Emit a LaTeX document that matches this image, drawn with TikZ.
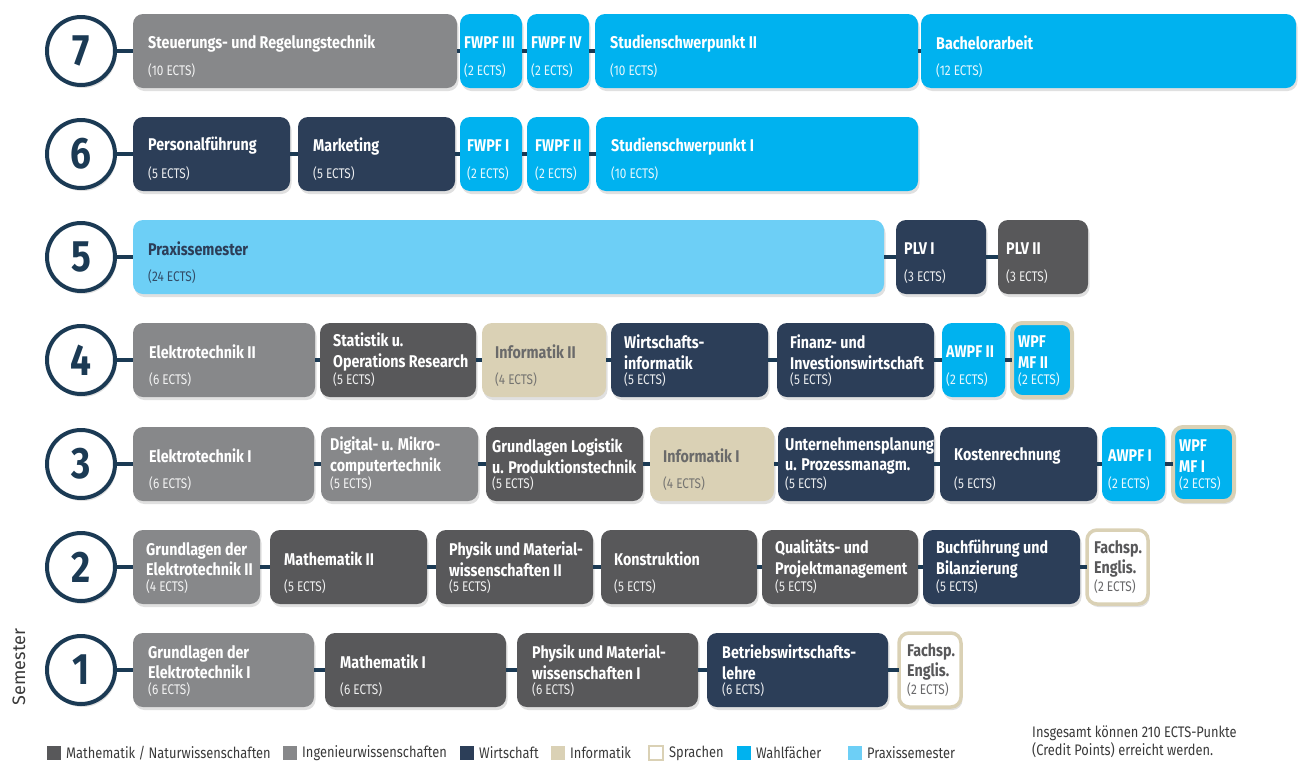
\documentclass[tikz,border=0pt]{standalone}
\usepackage{fontspec}
\setmainfont{Fira Sans}[FakeStretch=0.84]
\newfontfamily\semfont{Fira Sans}
\usepackage{tikz}
\usetikzlibrary{positioning, shadows}

\definecolor{mathgrau}{HTML}{58585A}
\definecolor{inggrau}{HTML}{87888A}
\definecolor{wirtblau}{HTML}{2C3E58}
\definecolor{infobeige}{HTML}{DAD1B5}
\definecolor{wahlblau}{HTML}{00B2EF}
\definecolor{praxisblau}{HTML}{6DCFF6}
\definecolor{kreisblau}{HTML}{1B3A54}
\definecolor{infotext}{HTML}{6A6A6A}
\definecolor{legtext}{HTML}{3A3A3A}

\tikzset{
  box/.style = {shape = rectangle, rounded corners = 10pt, minimum height = 74pt,
    anchor = west, outer sep = 0pt, inner sep = 0pt,
    drop shadow = {shadow xshift = 1.5pt, shadow yshift = -3pt, fill = black, opacity = .12}},
  mathe/.style = {fill = mathgrau},
  ing/.style = {fill = inggrau},
  wirt/.style = {fill = wirtblau},
  info/.style = {fill = infobeige},
  sprache/.style = {fill = white, draw = infobeige, line width = 3.5pt},
  wahl/.style = {fill = wahlblau},
  wahlsp/.style = {fill = wahlblau, draw = infobeige, line width = 4pt},
  praxis/.style = {fill = praxisblau},
  mathe text/.style = {text = white},
  ing text/.style = {text = white},
  wirt text/.style = {text = white},
  info text/.style = {text = infotext},
  sprache text/.style = {text = mathgrau},
  wahl text/.style = {text = white},
  wahlsp text/.style = {text = white},
  praxis text/.style = {text = wirtblau},
  titel/.style = {font = \fontsize{17}{20.5}\selectfont\bfseries, align = left, inner sep = 0pt},
  ects/.style = {font = \fontsize{14}{15}\selectfont, inner sep = 0pt, text opacity = .9},
  semkreis/.style = {shape = circle, draw = kreisblau, line width = 4pt, fill = white,
    minimum size = 68pt, inner sep = 0pt, text = kreisblau,
    font = \fontsize{44}{44}\selectfont\bfseries,
    drop shadow = {shadow xshift = 1.5pt, shadow yshift = -3pt, fill = black, opacity = .12}},
  verbinder/.style = {draw = kreisblau, line width = 4pt},
  legfeld/.style = {shape = rectangle, minimum size = 14pt, inner sep = 0pt, outer sep = 0pt},
  legende/.style = {font = \fontsize{15.3}{18}\selectfont, text = legtext, inner sep = 0pt}
}

% #1 Textabstand, #2 Name, #3 Bereich, #4 links, #5 rechts, #6 Zeile, #7 Titel, #8 ECTS
\newcommand{\fach}[8][14]{%
  \node [box, #3, minimum width = #5-#4] (#2) at (#4, #6) {};
  \node [titel, #3 text, anchor = west] at ([xshift = #1pt, yshift = 8pt]#2.west) {#7};
  \node [ects, #3 text, anchor = west] at ([xshift = #1pt, yshift = -20pt]#2.west) {#8};
}

\begin{document}
\begin{tikzpicture}[x = 1pt, y = -1pt]
  \useasboundingbox (0, 0) rectangle (1298, 761);

  \node [semkreis] (s7) at (81, 51) {7};
  \node [semkreis] (s6) at (81, 154) {6};
  \node [semkreis] (s5) at (81, 257) {5};
  \node [semkreis] (s4) at (81, 360) {4};
  \node [semkreis] (s3) at (81, 464) {3};
  \node [semkreis] (s2) at (81, 567) {2};
  \node [semkreis] (s1) at (81, 670) {1};

  \fach[15]{k71}{ing}{133}{457}{51}{Steuerungs- und Regelungstechnik}{(10 ECTS)}
  \fach[4]{k72}{wahl}{460}{522}{51}{FWPF III}{(2 ECTS)}
  \fach[4]{k73}{wahl}{527}{589}{51}{FWPF IV}{(2 ECTS)}
  \fach[15]{k74}{wahl}{595}{918}{51}{Studienschwerpunkt II}{(10 ECTS)}
  \fach[15]{k75}{wahl}{921}{1296}{51}{Bachelorarbeit}{(12 ECTS)}

  \fach[15]{k61}{wirt}{133}{290}{154}{Personalführung}{(5 ECTS)}
  \fach[15]{k62}{wirt}{298}{455}{154}{Marketing}{(5 ECTS)}
  \fach[7]{k63}{wahl}{460}{522}{154}{FWPF I}{(2 ECTS)}
  \fach[8]{k64}{wahl}{527}{589}{154}{FWPF II}{(2 ECTS)}
  \fach[15]{k65}{wahl}{596}{918}{154}{Studienschwerpunkt I}{(10 ECTS)}

  \fach[15]{k51}{praxis}{133}{884}{257}{Praxissemester}{(24 ECTS)}
  \fach[8]{k52}{wirt}{896}{986}{257}{PLV I}{(3 ECTS)}
  \fach[8]{k53}{mathe}{998}{1088}{257}{PLV II}{(3 ECTS)}

  \fach[16]{k41}{ing}{133}{315}{360}{Elektrotechnik II}{(6 ECTS)}
  \fach[13]{k42}{mathe}{320}{476}{360}{Statistik u.\\Operations Research}{(5 ECTS)}
  \fach[13]{k43}{info}{482}{606}{360}{Informatik II}{(4 ECTS)}
  \fach[13]{k44}{wirt}{611}{768}{360}{Wirtschafts-\\informatik}{(5 ECTS)}
  \fach[13]{k45}{wirt}{777}{934}{360}{Finanz- und\\Investionswirtschaft}{(5 ECTS)}
  \fach[4]{k46}{wahl}{942}{1005}{360}{AWPF II}{(2 ECTS)}
  \fach[6]{k47}{wahlsp}{1012}{1072}{360}{WPF\\MF II}{(2 ECTS)}

  \fach[16]{k31}{ing}{133}{314}{464}{Elektrotechnik I}{(6 ECTS)}
  \fach[9]{k32}{ing}{321}{478}{464}{Digital- u. Mikro-\\computertechnik}{(5 ECTS)}
  \fach[6]{k33}{mathe}{486}{643}{464}{Grundlagen Logistik\\u. Produktionstechnik}{(5 ECTS)}
  \fach[13]{k34}{info}{650}{774}{464}{Informatik I}{(4 ECTS)}
  \fach[7]{k35}{wirt}{778}{934}{464}{Unternehmensplanung\\u. Prozessmanagm.}{(5 ECTS)}
  \fach[14]{k36}{wirt}{940}{1097}{464}{Kostenrechnung}{(5 ECTS)}
  \fach[6]{k37}{wahl}{1102}{1165}{464}{AWPF I}{(2 ECTS)}
  \fach[6]{k38}{wahlsp}{1173}{1234}{464}{WPF\\MF I}{(2 ECTS)}

  \fach[13]{k21}{ing}{133}{260}{567}{Grundlagen der\\Elektrotechnik II}{(4 ECTS)}
  \fach[14]{k22}{mathe}{270}{427}{567}{Mathematik II}{(5 ECTS)}
  \fach[13]{k23}{mathe}{436}{593}{567}{Physik und Material-\\wissenschaften II}{(5 ECTS)}
  \fach[13]{k24}{mathe}{601}{757}{567}{Konstruktion}{(5 ECTS)}
  \fach[13]{k25}{mathe}{762}{918}{567}{Qualitäts- und\\Projektmanagement}{(5 ECTS)}
  \fach[13]{k26}{wirt}{923}{1080}{567}{Buchführung und\\Bilanzierung}{(5 ECTS)}
  \fach[7]{k27}{sprache}{1087}{1148}{567}{Fachsp.\\Englis.}{(2 ECTS)}

  \fach[15]{k11}{ing}{133}{314}{670}{Grundlagen der\\Elektrotechnik I}{(6 ECTS)}
  \fach[15]{k12}{mathe}{325}{506}{670}{Mathematik I}{(6 ECTS)}
  \fach[15]{k13}{mathe}{517}{698}{670}{Physik und Material-\\wissenschaften I}{(6 ECTS)}
  \fach[15]{k14}{wirt}{707}{888}{670}{Betriebswirtschafts-\\lehre}{(6 ECTS)}
  \fach[8]{k15}{sprache}{899}{961}{670}{Fachsp.\\Englis.}{(2 ECTS)}

  \draw [verbinder] (s7) -- (k71) (k71) -- (k72) (k72) -- (k73) (k73) -- (k74) (k74) -- (k75);
  \draw [verbinder] (s6) -- (k61) (k61) -- (k62) (k62) -- (k63) (k63) -- (k64) (k64) -- (k65);
  \draw [verbinder] (s5) -- (k51) (k51) -- (k52) (k52) -- (k53);
  \draw [verbinder] (s4) -- (k41) (k41) -- (k42) (k42) -- (k43) (k43) -- (k44) (k44) -- (k45)
    (k45) -- (k46) (k46) -- (k47);
  \draw [verbinder] (s3) -- (k31) (k31) -- (k32) (k32) -- (k33) (k33) -- (k34) (k34) -- (k35)
    (k35) -- (k36) (k36) -- (k37) (k37) -- (k38);
  \draw [verbinder] (s2) -- (k21) (k21) -- (k22) (k22) -- (k23) (k23) -- (k24) (k24) -- (k25)
    (k25) -- (k26) (k26) -- (k27);
  \draw [verbinder] (s1) -- (k11) (k11) -- (k12) (k12) -- (k13) (k13) -- (k14) (k14) -- (k15);

  \node [rotate = 90, font = \semfont\fontsize{18}{18}\selectfont, text = legtext] (semester) at (19, 667) {Semester};

  \node [legfeld, fill = mathgrau] (lmathe) at (54, 753) {};
  \node [legende, right = 5pt of lmathe] (tmathe) {Mathematik / Naturwissenschaften};
  \node [legfeld, fill = inggrau] (ling) at (290, 753) {};
  \node [legende, right = 5pt of ling] (ting) {Ingenieurwissenschaften};
  \node [legfeld, fill = wirtblau] (lwirt) at (467, 753) {};
  \node [legende, right = 5pt of lwirt] (twirt) {Wirtschaft};
  \node [legfeld, fill = infobeige] (linfo) at (558, 753) {};
  \node [legende, right = 5pt of linfo] (tinfo) {Informatik};
  \node [legfeld, fill = white, draw = infobeige, line width = 1.5pt] (lsprache) at (656, 753) {};
  \node [legende, right = 6pt of lsprache] (tsprache) {Sprachen};
  \node [legfeld, fill = wahlblau] (lwahl) at (744, 753) {};
  \node [legende, right = 5pt of lwahl] (twahl) {Wahlfächer};
  \node [legfeld, fill = praxisblau] (lpraxis) at (855, 753) {};
  \node [legende, right = 5pt of lpraxis] (tpraxis) {Praxissemester};

  \node [legende, anchor = west, align = left] (gesamt) at (1032, 742)
    {Insgesamt können 210 ECTS-Punkte\\(Credit Points) erreicht werden.};
\end{tikzpicture}
\end{document}
